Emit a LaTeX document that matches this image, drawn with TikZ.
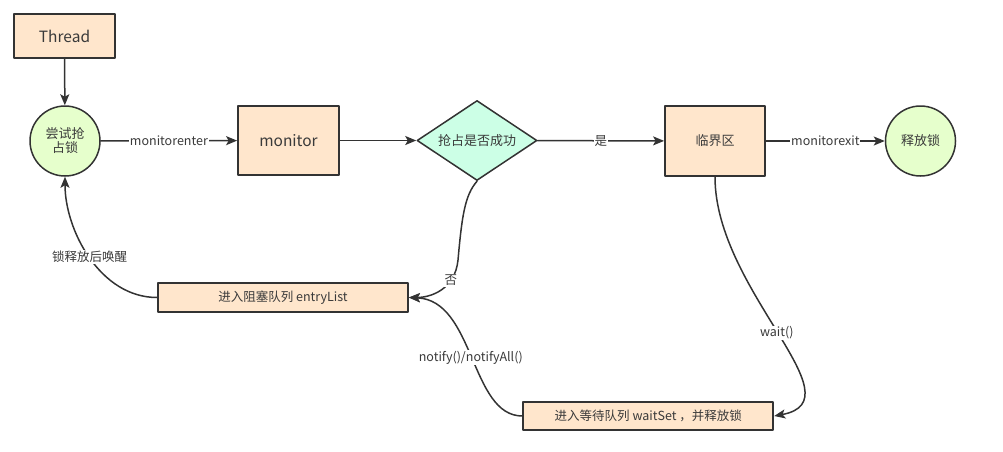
\documentclass[tikz,border=0pt]{standalone}
\usepackage{fontspec}
\setmainfont{Noto Sans CJK SC}
\usetikzlibrary{shapes.geometric,arrows.meta}
\definecolor{boxfill}{HTML}{FFE6CC}
\definecolor{roundfill}{HTML}{E6FFCC}
\definecolor{choicefill}{HTML}{CCFFE6}
\definecolor{linecol}{HTML}{333333}
\definecolor{txtcol}{HTML}{3A3A3A}

\begin{document}
\begin{tikzpicture}[x=1pt,y=-1pt,line cap=round,line join=round,
  box/.style={draw=linecol,line width=1.8pt,fill=boxfill,text=txtcol,inner sep=0pt},
  roundbox/.style={circle,draw=linecol,line width=1.5pt,fill=roundfill,text=txtcol,
    minimum size=70pt,inner sep=0pt,align=center,font=\fontsize{13}{16}\selectfont},
  choice/.style={diamond,draw=linecol,line width=1.5pt,fill=choicefill,text=txtcol,
    minimum width=120pt,minimum height=80pt,aspect=1.5,inner sep=1pt},
  flow/.style={draw=linecol,line width=1.5pt,-{Stealth[length=11pt,width=9pt,inset=2.5pt]}},
  lbl/.style={fill=white,text=txtcol,inner sep=1pt,font=\fontsize{12.5}{14}\selectfont}]
  \useasboundingbox (0,0) rectangle (1003,451);
  \node[box,minimum width=101pt,minimum height=44pt,font=\fontsize{15.5}{18}\selectfont] (thread) at (64.5,36) {Thread};
  \node[roundbox] (trylock) at (65,141) {尝试抢\\[-2pt]占锁};
  \node[box,minimum width=101pt,minimum height=69pt,font=\fontsize{15.5}{18}\selectfont] (monitor) at (288.5,140.5) {monitor};
  \node[choice,font=\fontsize{13}{16}\selectfont] (success) at (477,140.5) {抢占是否成功};
  \node[box,minimum width=100pt,minimum height=70pt,font=\fontsize{13}{16}\selectfont] (critical) at (715,141) {临界区};
  \node[roundbox] (release) at (920.5,141) {释放锁};
  \node[box,minimum width=250pt,minimum height=29pt,font=\fontsize{12.5}{15}\selectfont] (entry) at (283,297.5) {进入阻塞队列 entryList};
  \node[box,minimum width=250pt,minimum height=28.5pt,font=\fontsize{12.5}{15}\selectfont] (waitset) at (648.3,416) {进入等待队列 waitSet ，并释放锁};
  \draw[flow] (thread) -- (trylock);
  \draw[flow] (trylock) -- node[lbl] {monitorenter} (monitor);
  \draw[flow] (monitor) -- (success);
  \draw[flow] (success) -- node[lbl] {是} (critical);
  \draw[flow] (critical) -- node[lbl] {monitorexit} (release);
  \draw[flow] (success.south) .. controls (465,195) and (462,215) .. (458,260)
    .. controls (455,290) and (430,297.5) .. node[lbl,pos=0.28] {否} (entry.east);
  \draw[flow] (waitset.west) .. controls (470,416) and (475,300) .. node[lbl] {notify()/notifyAll()} (entry.east);
  \draw[flow] (critical.south) .. controls (715,290) and (860,400) .. node[lbl] {wait()} (waitset.east);
  \draw[flow] (entry.west) .. controls (100,297.5) and (65,230) .. node[lbl] {锁释放后唤醒} (trylock.south);
\end{tikzpicture}
\end{document}
